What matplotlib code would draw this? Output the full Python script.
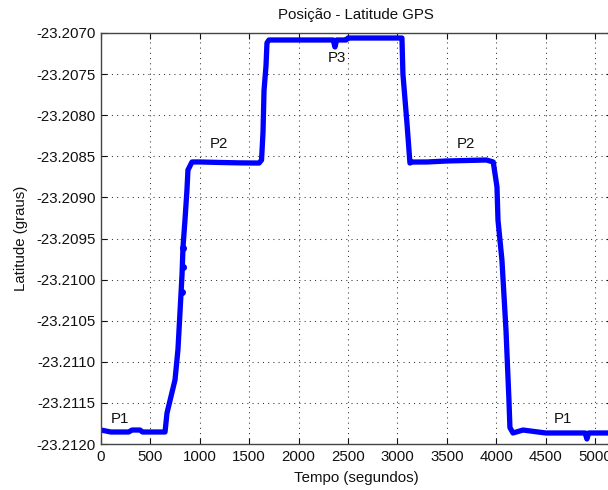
import matplotlib
matplotlib.use("Agg")
import matplotlib.pyplot as plt
from matplotlib.ticker import FormatStrFormatter, MultipleLocator

plt.rcParams['font.family'] = ['Liberation Sans', 'DejaVu Sans']

# GPS latitude samples (time in seconds, latitude in degrees)
tempo = [0, 100, 280, 314, 395, 420, 600, 648, 668, 749, 779, 820, 830, 850, 870,
         880, 921, 1000, 1200, 1400, 1600, 1625, 1640, 1650, 1670, 1680, 1700,
         1900, 2200, 2350, 2368, 2385, 2480, 2500, 2800, 3046, 3056, 3097, 3127,
         3140, 3300, 3500, 3900, 3970, 4008, 4018, 4058, 4099, 4129, 4139, 4170,
         4271, 4500, 4900, 4918, 4936, 5170]
latitude = [-23.211830, -23.211854, -23.211854, -23.211830, -23.211830, -23.211854,
            -23.211854, -23.211854, -23.211623, -23.211221, -23.210850, -23.209944,
            -23.209603, -23.209275, -23.208910, -23.208667, -23.208569, -23.208569,
            -23.208575, -23.208580, -23.208582, -23.208545, -23.208200, -23.207700,
            -23.207400, -23.207120, -23.207085, -23.207085, -23.207085, -23.207085,
            -23.207170, -23.207085, -23.207085, -23.207061, -23.207061, -23.207061,
            -23.207500, -23.208100, -23.208582, -23.208570, -23.208569, -23.208557,
            -23.208545, -23.208569, -23.208873, -23.209275, -23.209762, -23.210613,
            -23.211465, -23.211800, -23.211866, -23.211830, -23.211866, -23.211866,
            -23.211939, -23.211866, -23.211866]

# Isolated samples on the first climb
amostras_t = [818, 826, 834]
amostras_lat = [-23.21015, -23.20985, -23.20962]

# Position labels
rotulos = ["P1", "P2", "P3", "P2", "P1"]
rotulo_t = [190, 1195, 2388, 3694, 4675]
rotulo_lat = [-23.21170, -23.20835, -23.20730, -23.20835, -23.21170]

x_ticks = [0, 500, 1000, 1500, 2000, 2500, 3000, 3500, 4000, 4500, 5000]

fig = plt.figure(figsize=(6.08, 4.90), dpi=100)
fig.patch.set_facecolor('white')

x_max = 5170
left_px, bottom_px, top_px = 101, 444, 33
px_per_s = (595 - 101) / 5000
width_px = x_max * px_per_s
ax = fig.add_axes([left_px / 608, 1 - bottom_px / 490,
                   width_px / 608, (bottom_px - top_px) / 490])

ax.plot(tempo, latitude, color='#0000ff', linewidth=3.8,
        solid_capstyle='round', solid_joinstyle='round')
ax.plot(amostras_t, amostras_lat, linestyle='none', marker='o',
        markersize=4, color='#0000ff')

fs = 10.8
for r, t, la in zip(rotulos, rotulo_t, rotulo_lat):
    ax.text(t, la, r, fontsize=fs, ha='center', va='center', color='#111111')

ax.set_xlim(0, x_max)
ax.set_ylim(-23.2120, -23.2070)
ax.set_xticks(x_ticks)
ax.set_xticklabels([str(v) for v in x_ticks])
ax.yaxis.set_major_locator(MultipleLocator(0.0005))
ax.yaxis.set_major_formatter(FormatStrFormatter('%.4f'))

ax.grid(True, color='#333333', linewidth=0.75, linestyle=(0, (1, 4)))
ax.tick_params(direction='in', length=4, width=0.8, top=True, right=True,
               labelsize=fs, colors='#111111', pad=4)
for s in ax.spines.values():
    s.set_color('#444444')
    s.set_linewidth(1.0)

ax.set_title('Posição - Latitude GPS', fontsize=fs, color='#111111', pad=10)
ax.set_xlabel('Tempo (segundos)', fontsize=fs, color='#111111', labelpad=5)
ax.set_ylabel('Latitude (graus)', fontsize=fs, color='#111111')
ax.yaxis.label.set_verticalalignment('center')
ax.yaxis.set_label_coords((21 - left_px) / width_px, 0.5)

fig.savefig('out.png', dpi=100, facecolor='white')
